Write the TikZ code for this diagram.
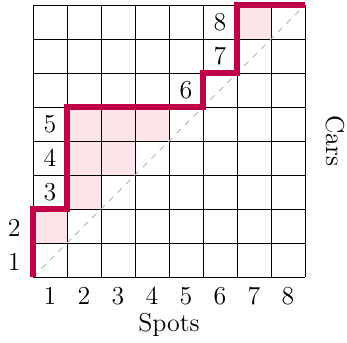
\documentclass[tikz,border=0pt]{standalone}
\usepackage{amsmath, amssymb}
\usepackage{tikz}
\usetikzlibrary{positioning, calc}
\definecolor{parkcrimson}{RGB}{192, 0, 72}
\definecolor{boxpink}{RGB}{253, 228, 232}
\tikzset{
  parkpath/.style={line width=3pt, parkcrimson},
  gridline/.style={line width=0.45pt, black},
  diagline/.style={dashed, gray!60, line width=0.4pt}
}

\begin{document}
\begin{tikzpicture}[scale=0.6, every node/.style={font=\fontsize{13}{15}\selectfont}]
\useasboundingbox (-0.97,-1.94) rectangle (9.235,8.147);
% cells between path and diagonal
\fill[boxpink] (0,1) rectangle (1,2);
\fill[boxpink] (1,2) rectangle (2,5);
\fill[boxpink] (2,3) rectangle (3,5);
\fill[boxpink] (3,4) rectangle (4,5);
\fill[boxpink] (6,7) rectangle (7,8);
\draw[gridline] (0,0) grid (8,8);
\draw[diagline] (0,0) -- (8,8);
\draw[parkpath] (0,0) |- (1,2) |- (5,5) |- (6,6) |- (8,8);
% spot numbers
\foreach \i in {1,...,8}
  \node (spot\i) at (\i-0.5,-0.55) {\i};
\node (spots) at (4,-1.42) {Spots};
\node[rotate=-90] (cars) at (8.88,4) {Cars};
% car numbers
\foreach \n/\x/\y in {1/-0.55/0.45, 2/-0.55/1.45, 3/0.5/2.5, 4/0.5/3.5, 5/0.5/4.5, 6/4.5/5.5, 7/5.5/6.5, 8/5.5/7.5}
  \node (car\n) at (\x,\y) {\n};
\end{tikzpicture}
\end{document}
